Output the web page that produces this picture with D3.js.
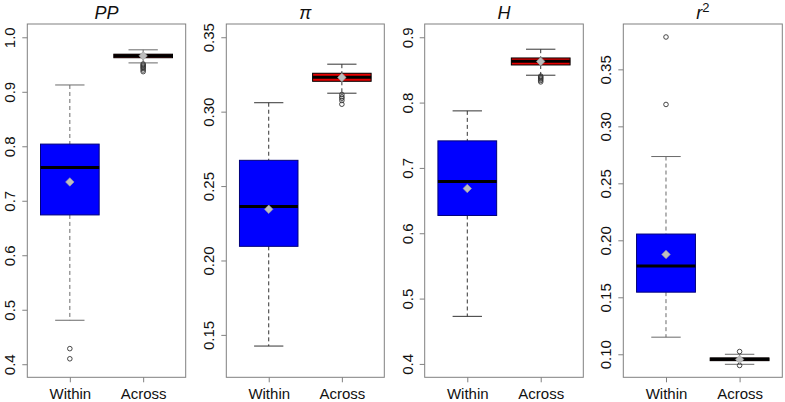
<!DOCTYPE html>
<html>
<head>
<meta charset="utf-8">
<script src="https://cdn.jsdelivr.net/npm/d3@7"></script>
<style>
  html, body { margin: 0; padding: 0; background: #fff; }
  svg { display: block; font-family: "Liberation Sans", Arial, sans-serif; }
</style>
</head>
<body>
<svg id="chart" width="785" height="402"></svg>
<script>
// ---------- data ----------
const panelTitles = ["PP", "π", "H", "r2"];
const groups = ["Within", "Across"];

const withinWhiskerLow  = [0.4807, 0.1425, 0.4728, 0.1150];
const withinQ1          = [0.6740, 0.2095, 0.6272, 0.1545];
const withinMedian      = [0.7610, 0.2362, 0.6792, 0.1774];
const withinQ3          = [0.8040, 0.2673, 0.7414, 0.2055];
const withinWhiskerHigh = [0.9125, 0.3060, 0.7873, 0.2735];
const withinMean        = [0.7345, 0.2344, 0.6685, 0.1876];
const withinOutliers    = [[0.4286, 0.4100], [], [], [0.3784, 0.3192]];

const acrossWhiskerLow  = [0.9530, 0.3124, 0.8419, 0.0912];
const acrossQ1          = [0.9625, 0.3204, 0.8576, 0.0944];
const acrossMedian      = [0.9660, 0.3231, 0.8633, 0.0957];
const acrossQ3          = [0.9690, 0.3258, 0.8683, 0.0968];
const acrossWhiskerHigh = [0.9770, 0.3319, 0.8817, 0.1000];
const acrossMean        = [0.9660, 0.3230, 0.8630, 0.0955];
const acrossOutliers    = [
  [0.951, 0.949, 0.947, 0.945, 0.943, 0.940, 0.937],
  [0.3115, 0.310, 0.309, 0.3075, 0.305],
  [0.8405, 0.839, 0.8375, 0.836, 0.834, 0.8317],
  [0.1024, 0.0902]
];

const yTickValues = [
  [0.4, 0.5, 0.6, 0.7, 0.8, 0.9, 1.0],
  [0.15, 0.20, 0.25, 0.30, 0.35],
  [0.4, 0.5, 0.6, 0.7, 0.8, 0.9],
  [0.10, 0.15, 0.20, 0.25, 0.30, 0.35]
];
const yTickFormats = [".1f", ".2f", ".1f", ".2f"];
const yDomains = [[0.376, 1.0244], [0.1215, 0.3589], [0.3795, 0.9203], [0.0798, 0.3898]];

// ---------- layout / style ----------
const panelLeft = [27.3, 226.3, 424.7, 623.3];
const panelWidth = [158.4, 158.0, 158.6, 159.0];
const plotTop = 24, plotBottom = 377.3;
const groupFill = ["#0000ff", "#e60000"];
const groupStroke = ["#00007a", "#000000"];
const frameColor = "#808080";
const whiskerColors = ["#6a6a6a", "#333333", "#333333", "#6a6a6a"];

const svg = d3.select("#chart");

panelTitles.forEach((title, i) => {
  const L = panelLeft[i], W = panelWidth[i];
  const x = d3.scaleLinear().domain([0.42, 2.58]).range([L, L + W]);
  const y = d3.scaleLinear().domain(yDomains[i]).range([plotBottom, plotTop]);
  const g = svg.append("g");
  const whiskerColor = whiskerColors[i];

  const stats = [
    { lo: withinWhiskerLow[i], q1: withinQ1[i], med: withinMedian[i], q3: withinQ3[i], hi: withinWhiskerHigh[i], mean: withinMean[i], out: withinOutliers[i] },
    { lo: acrossWhiskerLow[i], q1: acrossQ1[i], med: acrossMedian[i], q3: acrossQ3[i], hi: acrossWhiskerHigh[i], mean: acrossMean[i], out: acrossOutliers[i] }
  ];

  const boxHalf = (x(1.4) - x(1));
  const capHalf = boxHalf / 2;

  stats.forEach((s, k) => {
    const cx = x(k + 1);
    g.append("line").attr("x1", cx).attr("x2", cx).attr("y1", y(s.hi)).attr("y2", y(s.q3))
      .attr("stroke", whiskerColor).attr("stroke-width", 1).attr("stroke-dasharray", "4,3");
    g.append("line").attr("x1", cx).attr("x2", cx).attr("y1", y(s.q1)).attr("y2", y(s.lo))
      .attr("stroke", whiskerColor).attr("stroke-width", 1).attr("stroke-dasharray", "4,3");
    [s.hi, s.lo].forEach(v => {
      g.append("line").attr("x1", cx - capHalf).attr("x2", cx + capHalf)
        .attr("y1", y(v)).attr("y2", y(v))
        .attr("stroke", whiskerColor).attr("stroke-width", 1);
    });
    s.out.forEach(v => {
      g.append("circle").attr("cx", cx).attr("cy", y(v)).attr("r", 2.3)
        .attr("fill", "none").attr("stroke", "#333").attr("stroke-width", 0.9);
    });
    g.append("rect").attr("x", cx - boxHalf).attr("y", y(s.q3))
      .attr("width", 2 * boxHalf).attr("height", Math.max(0.5, y(s.q1) - y(s.q3)))
      .attr("fill", groupFill[k]).attr("stroke", groupStroke[k]).attr("stroke-width", 1);
    g.append("line").attr("x1", cx - boxHalf).attr("x2", cx + boxHalf)
      .attr("y1", y(s.med)).attr("y2", y(s.med))
      .attr("stroke", "#000").attr("stroke-width", 3);
    g.append("path").attr("d", d3.symbol().type(d3.symbolSquare).size(36)())
      .attr("transform", `translate(${cx},${y(s.mean)}) rotate(45)`)
      .attr("fill", "#bdbdbd").attr("stroke", "#a0a0a0").attr("stroke-width", 0.6);
  });

  g.append("rect").attr("x", L).attr("y", plotTop).attr("width", W).attr("height", plotBottom - plotTop)
    .attr("fill", "none").attr("stroke", frameColor).attr("stroke-width", 1);

  const yAxis = g.append("g").attr("transform", `translate(${L},0)`)
    .call(d3.axisLeft(y).tickValues(yTickValues[i]).tickFormat(d3.format(yTickFormats[i])).tickSize(5));
  yAxis.select(".domain").remove();
  yAxis.selectAll(".tick line").attr("stroke", frameColor);
  yAxis.selectAll(".tick text")
    .attr("x", null).attr("dy", null)
    .attr("transform", "translate(-12,0) rotate(-90)")
    .attr("text-anchor", "middle")
    .attr("font-size", 15).attr("font-family", "Liberation Sans, Arial, sans-serif")
    .attr("fill", "#111");

  const xAxis = g.append("g").attr("transform", `translate(0,${plotBottom})`)
    .call(d3.axisBottom(x).tickValues([1, 2]).tickFormat((d, j) => groups[j]).tickSize(5));
  xAxis.select(".domain").remove();
  xAxis.selectAll(".tick line").attr("stroke", frameColor);
  xAxis.selectAll(".tick text")
    .attr("y", 22).attr("dy", null)
    .attr("font-size", 15).attr("font-family", "Liberation Sans, Arial, sans-serif")
    .attr("fill", "#111");

  const t = svg.append("text").attr("x", L + W / 2).attr("y", 19)
    .attr("text-anchor", "middle").attr("font-size", 18).attr("fill", "#111");
  if (title === "r2") {
    t.append("tspan").attr("font-style", "italic").text("r");
    t.append("tspan").attr("font-size", 13).attr("dy", -7).text("2");
  } else {
    t.attr("font-style", "italic").text(title);
  }
});
</script>
</body>
</html>
